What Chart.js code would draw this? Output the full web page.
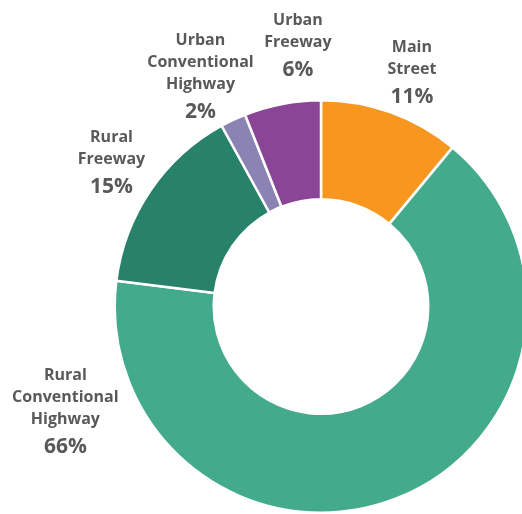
<!DOCTYPE html>
<html>
<head>
<meta charset="utf-8">
<script src="https://cdn.jsdelivr.net/npm/chart.js@4"></script>
<style>
  html, body { margin: 0; padding: 0; background: #fff; overflow: hidden; }
  #wrap { width: 522px; height: 514px; overflow: hidden; position: relative; }
  #wrap canvas { position: absolute; left: 0; top: 0; }
</style>
</head>
<body>
<div id="wrap"><canvas id="roadChart" width="642" height="514"></canvas></div>
<script>
// data
const categories = [
    ['Main', 'Street'],
    ['Rural', 'Conventional', 'Highway'],
    ['Rural', 'Freeway'],
    ['Urban', 'Conventional', 'Highway'],
    ['Urban', 'Freeway']
];
const shares = [11, 66, 15, 2, 6];
const sliceColors = ['#F7971F', '#43AA8B', '#28816A', '#8A83B4', '#8A4597'];

// where each label sits: angle (deg from top), distance / outer radius
const labelAngle = [21, 248.2, 305, 332.6, 355];
const labelDist = [1.23, 1.335, 1.24, 1.27, 1.285];

const outsideLabels = {
    id: 'outsideLabels',
    afterDatasetsDraw(chart) {
        const ctx = chart.ctx;
        const arcs = chart.getDatasetMeta(0).data;
        ctx.save();
        ctx.fillStyle = '#595959';
        ctx.textAlign = 'center';
        ctx.textBaseline = 'middle';
        arcs.forEach((arc, i) => {
            const p = arc.getProps(['x', 'y', 'startAngle', 'endAngle', 'outerRadius'], true);
            const a = labelAngle[i] !== null
                ? (labelAngle[i] - 90) * Math.PI / 180
                : (p.startAngle + p.endAngle) / 2;
            const r = p.outerRadius * labelDist[i];
            const lines = categories[i];
            const cx = p.x + Math.cos(a) * r;
            const cy = p.y + Math.sin(a) * r + 2.5; // Open Sans sits a bit high on 'middle'
            const total = (lines.length - 1) * 22 + 27.5;
            let y = cy - total / 2;
            ctx.font = 'bold 16px "Open Sans", sans-serif';
            lines.forEach(t => {
                ctx.fillText(t, cx, y);
                y += 22;
            });
            y += 5.5;
            ctx.font = 'bold 21px "Open Sans", sans-serif';
            ctx.fillText(shares[i] + '%', cx, y);
        });
        ctx.restore();
    }
};

const ctx = document.getElementById('roadChart').getContext('2d');
const roadChart = new Chart(ctx, {
    type: 'doughnut',
    data: {
        labels: categories.map(c => c.join(' ')),
        datasets: [{
            data: shares,
            backgroundColor: sliceColors,
            borderColor: '#ffffff',
            borderWidth: 2.5,
            hoverOffset: 0
        }]
    },
    options: {
        responsive: false,
        animation: false,
        cutout: '52%',
        layout: {
            padding: { top: 99, bottom: 0, left: 0, right: 0 }
        },
        plugins: {
            legend: { display: false },
            tooltip: { enabled: false }
        }
    },
    plugins: [outsideLabels]
});
</script>
</body>
</html>
